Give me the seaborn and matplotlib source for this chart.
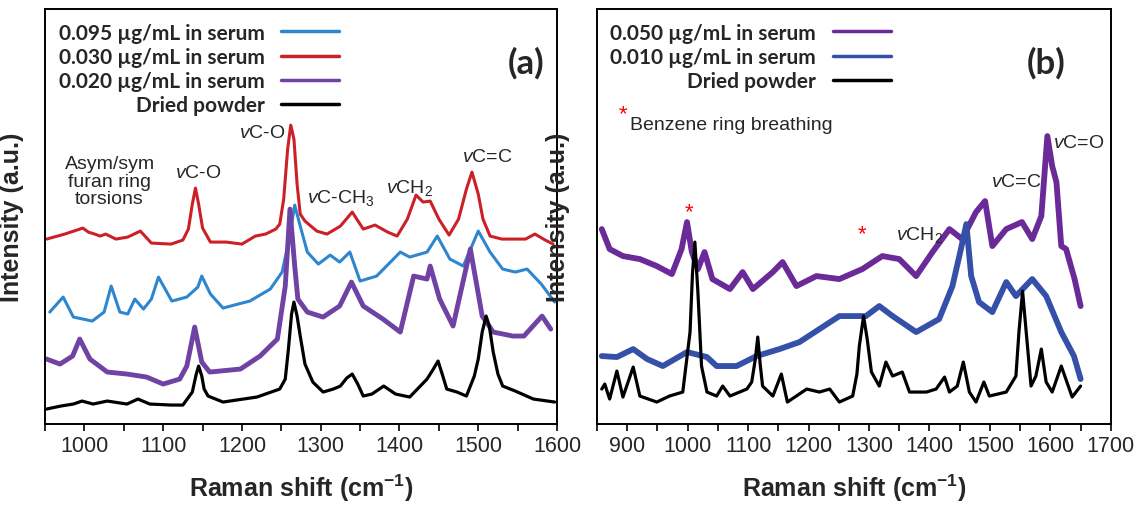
import matplotlib
matplotlib.use("Agg")
from matplotlib import pyplot as plt
from matplotlib.ticker import MultipleLocator
import seaborn as sns

# panel (a) spectra (intensity in arbitrary units)
a_red_wn = [952, 975, 998, 1005, 1013, 1020, 1027, 1040, 1055, 1071, 1085, 1110, 1125, 1132, 1137, 1141, 1145, 1150,
            1160, 1180, 1200, 1217, 1230, 1243, 1248, 1253, 1258, 1262, 1266, 1270, 1274, 1280, 1295, 1308, 1325,
            1340, 1354, 1369, 1385, 1397, 1410, 1421, 1430, 1439, 1450, 1463, 1475, 1485, 1492, 1500, 1506, 1515,
            1530, 1547, 1560, 1572, 1585, 1595]
a_red_int = [185, 190, 196, 192, 190, 188, 190, 185, 187, 193, 181, 180, 184, 195, 220, 236, 220, 196, 182, 182, 180,
             188, 190, 195, 200, 225, 275, 299, 285, 240, 210, 203, 193, 190, 198, 212, 195, 199, 192, 188, 205, 229,
             222, 223, 205, 189, 205, 235, 252, 230, 205, 188, 185, 185, 185, 190, 184, 180]

a_blue_wn = [956, 973, 986, 1010, 1025, 1034, 1045, 1055, 1064, 1075, 1085, 1094, 1111, 1130, 1144, 1149, 1160, 1176,
             1195, 1210, 1236, 1251, 1260, 1267, 1274, 1283, 1297, 1312, 1324, 1337, 1350, 1371, 1401, 1413, 1435,
             1448, 1464, 1481, 1500, 1515, 1531, 1547, 1562, 1580, 1597]
a_blue_int = [112, 127, 107, 103, 112, 138, 112, 110, 125, 115, 125, 147, 123, 127, 137, 148, 130, 116, 120, 123, 135,
              152, 185, 219, 198, 172, 160, 169, 162, 172, 143, 148, 172, 167, 172, 188, 165, 158, 193, 172, 155, 152,
              155, 140, 122]

a_purple_wn = [952, 969, 985, 994, 1007, 1029, 1054, 1079, 1100, 1121, 1130, 1140, 1149, 1159, 1198, 1223, 1245, 1255,
               1261, 1267, 1271, 1283, 1303, 1324, 1339, 1354, 1379, 1401, 1418, 1435, 1439, 1451, 1468, 1490, 1505,
               1519, 1544, 1558, 1581, 1592]
a_purple_int = [65, 60, 68, 85, 65, 52, 50, 47, 40, 45, 58, 97, 62, 52, 55, 68, 85, 138, 215, 158, 125, 112, 107, 118,
                142, 118, 105, 92, 148, 145, 158, 125, 98, 175, 108, 92, 88, 88, 108, 95]

a_black_wn = [952, 970, 986, 997, 1011, 1029, 1054, 1068, 1083, 1110, 1125, 1137, 1142, 1145, 1149, 1152, 1157, 1176,
              1219, 1248, 1255, 1259, 1263, 1266, 1270, 1274, 1280, 1290, 1303, 1316, 1325, 1333, 1340, 1347, 1354,
              1365, 1380, 1395, 1413, 1435, 1443, 1449, 1455, 1460, 1473, 1485, 1495, 1500, 1505, 1510, 1514, 1519,
              1525, 1531, 1547, 1570, 1597]
a_black_int = [15, 18, 20, 23, 20, 23, 20, 25, 20, 19, 19, 32, 50, 58, 48, 35, 28, 22, 27, 35, 45, 75, 110, 122, 108,
               88, 60, 42, 32, 35, 38, 46, 50, 40, 28, 30, 38, 30, 27, 45, 55, 63, 48, 35, 32, 28, 48, 65, 92, 108,
               98, 72, 50, 38, 33, 25, 22]

# panel (b) spectra
b_purple_wn = [858, 871, 893, 921, 949, 974, 990, 999, 1007, 1017, 1028, 1041, 1070, 1091, 1108, 1141, 1157, 1180,
               1213, 1251, 1289, 1322, 1350, 1378, 1405, 1433, 1454, 1477, 1492, 1504, 1527, 1553, 1570, 1585, 1595,
               1603, 1610, 1618, 1626, 1640, 1650]
b_purple_int = [195, 175, 168, 165, 158, 150, 175, 202, 172, 155, 172, 145, 135, 152, 135, 152, 162, 138, 148, 145,
                155, 168, 165, 148, 172, 195, 185, 212, 223, 178, 195, 202, 185, 208, 288, 258, 242, 178, 175, 145, 118]

b_blue_wn = [858, 883, 910, 933, 959, 999, 1032, 1048, 1081, 1114, 1152, 1185, 1218, 1251, 1295, 1317, 1339, 1378,
             1416, 1438, 1452, 1461, 1469, 1482, 1504, 1527, 1543, 1570, 1593, 1618, 1639, 1650]
b_blue_int = [68, 67, 75, 65, 58, 72, 67, 58, 58, 68, 75, 82, 95, 108, 108, 118, 108, 92, 105, 138, 175, 200, 148, 122,
              112, 142, 128, 145, 128, 92, 68, 45]

b_black_wn = [858, 863, 871, 883, 893, 910, 921, 949, 970, 992, 1004, 1008, 1012, 1017, 1023, 1032, 1048, 1058, 1070,
              1098, 1106, 1112, 1116, 1120, 1124, 1141, 1155, 1165, 1197, 1218, 1235, 1251, 1273, 1280, 1284, 1291,
              1297, 1304, 1317, 1328, 1339, 1355, 1367, 1395, 1411, 1425, 1433, 1446, 1456, 1466, 1477, 1490, 1499,
              1527, 1543, 1548, 1554, 1560, 1568, 1576, 1585, 1593, 1603, 1618, 1636, 1650]
b_black_int = [35, 40, 25, 53, 27, 57, 28, 22, 28, 32, 92, 150, 182, 132, 58, 32, 28, 38, 28, 35, 42, 65, 87, 60, 38,
               28, 50, 22, 35, 32, 35, 22, 28, 50, 78, 108, 85, 52, 38, 62, 48, 52, 32, 32, 35, 47, 32, 38, 62, 32,
               22, 42, 28, 32, 48, 92, 133, 92, 38, 48, 75, 42, 32, 58, 27, 38]

sns.set_style("white")
plt.rcParams["font.family"] = ["Liberation Sans", "DejaVu Sans"]
plt.rcParams["mathtext.fontset"] = "custom"
plt.rcParams["mathtext.rm"] = "Liberation Sans"
plt.rcParams["mathtext.it"] = "Liberation Sans:italic"
plt.rcParams["mathtext.bf"] = "Liberation Sans:bold"

fig = plt.figure(figsize=(11.37, 5.06), dpi=100)
ax_a = fig.add_axes([0.0396, 0.160, 0.4503, 0.820])
ax_b = fig.add_axes([0.525, 0.160, 0.452, 0.820])


def spectrum(ax, wn, inten, color, lw, label):
    sns.lineplot(x=wn, y=inten, color=color, lw=lw, label=label, ax=ax, estimator=None, sort=False)


spectrum(ax_a, a_red_wn, a_red_int, "#cc2027", 2.2, "0.030 µg/mL in serum")
spectrum(ax_a, a_blue_wn, a_blue_int, "#2e86cf", 2.2, "0.095 µg/mL in serum")
spectrum(ax_a, a_purple_wn, a_purple_int, "#6f42a3", 3.5, "0.020 µg/mL in serum")
spectrum(ax_a, a_black_wn, a_black_int, "black", 2.3, "Dried powder")

spectrum(ax_b, b_purple_wn, b_purple_int, "#6a2b98", 4.2, "0.050 µg/mL in serum")
spectrum(ax_b, b_blue_wn, b_blue_int, "#3550a8", 4.2, "0.010 µg/mL in serum")
spectrum(ax_b, b_black_wn, b_black_int, "black", 2.3, "Dried powder")

leg_font = dict(family="Lato", weight="bold", size=15)
for ax, order, xlim, letter in [(ax_a, [1, 0, 2, 3], (950, 1600), "(a)"),
                                (ax_b, [0, 1, 2], (850, 1700), "(b)")]:
    h, l = ax.get_legend_handles_labels()
    leg = ax.legend([h[i] for i in order], [l[i] for i in order], loc="upper left", bbox_to_anchor=(0.0, 1.0),
                    frameon=False, markerfirst=False, prop=leg_font, handlelength=2.8, handletextpad=0.8,
                    labelspacing=0.2, borderaxespad=0.25)
    for ln in leg.get_lines():
        ln.set_linewidth(2.5)
    ax.set_xlim(*xlim)
    ax.set_ylim(0, 415)
    ax.set_yticks([])
    ax.xaxis.set_major_locator(MultipleLocator(100))
    ax.xaxis.set_minor_locator(MultipleLocator(50))
    ax.tick_params(axis="x", which="both", bottom=True, direction="out", length=5, width=1.4,
                   labelsize=15.5, pad=3)
    for sp in ax.spines.values():
        sp.set_visible(True)
        sp.set_color("black")
        sp.set_linewidth(1.4)
    ax.set_xlabel(r"Raman shift (cm$^{\mathbf{-1}}$)", fontsize=18, fontweight="bold", labelpad=11)
    ax.set_ylabel("Intensity (a.u.)", fontsize=18, fontweight="bold")
    ax.text(1561 if letter == "(a)" else 1593, 362, letter, fontsize=25, fontweight="bold",
            family="Lato", ha="center", va="center")

ax_a.yaxis.set_label_coords(-0.041, 0.5)
ax_b.yaxis.set_label_coords(-0.053, 0.5)

note = dict(fontsize=14, ha="center", va="center")
ax_a.text(1032, 243, "Asym/sym\nfuran ring\ntorsions", linespacing=1.05, **note)
ax_a.text(1144, 252, r"$\mathit{v}$C-O", **note)
ax_a.text(1226, 292, r"$\mathit{v}$C-O", **note)
ax_a.text(1326, 227, r"$\mathit{v}$C-CH$_3$", **note)
ax_a.text(1413, 237, r"$\mathit{v}$CH$_2$", **note)
ax_a.text(1511, 268, r"$\mathit{v}$C=C", **note)

ax_b.text(893, 310, "*", color="red", fontsize=16, ha="center", va="center")
ax_b.text(904, 300, "Benzene ring breathing", fontsize=14, ha="left", va="center")
ax_b.text(1003, 212, "*", color="red", fontsize=16, ha="center", va="center")
ax_b.text(1289, 190, "*", color="red", fontsize=16, ha="center", va="center")
ax_b.text(1383, 190, r"$\mathit{v}$CH$_2$", **note)
ax_b.text(1543, 243, r"$\mathit{v}$C=C", **note)
ax_b.text(1647, 282, r"$\mathit{v}$C=O", **note)

fig.savefig("out.png", dpi=100)
